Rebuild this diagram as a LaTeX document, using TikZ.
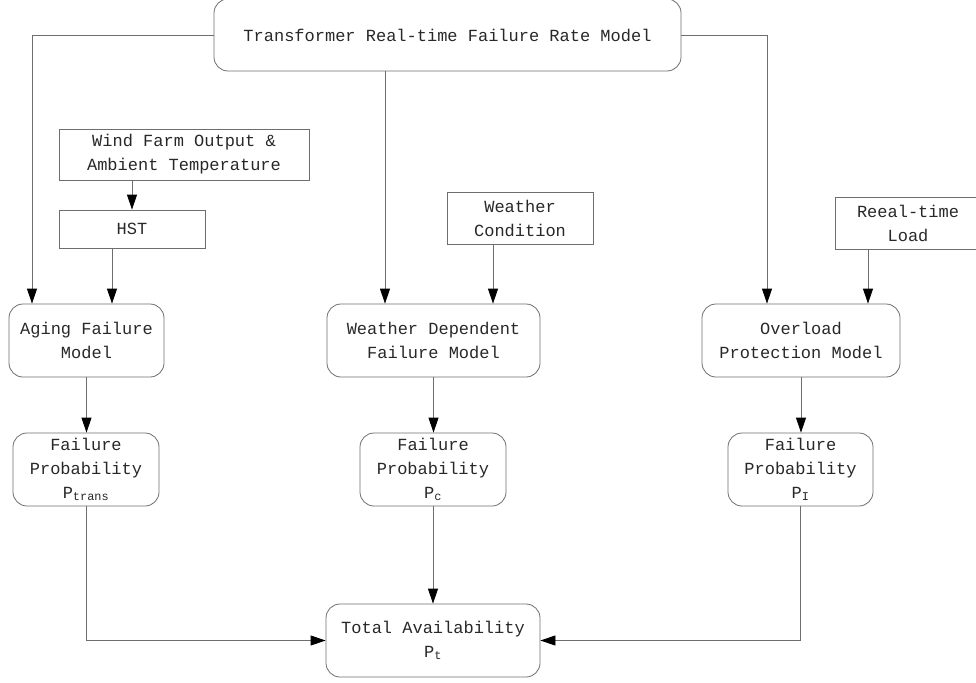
\documentclass[tikz,border=0pt]{standalone}
\usepackage{fontspec}
\setmainfont{Liberation Mono}
\usetikzlibrary{arrows.meta}
\definecolor{linegray}{RGB}{110,110,110}
\definecolor{textgray}{RGB}{40,40,40}

\begin{document}
\begin{tikzpicture}[x=1pt,y=-1pt]
    \tikzstyle{every node}+=[inner sep=0pt, align=center, text=textgray, font=\fontsize{17}{24}\selectfont]
    \tikzstyle{rbox}=[draw=linegray, line width=0.8pt, rounded corners=14pt]
    \tikzstyle{sbox}=[draw=linegray, line width=0.8pt]
    \tikzstyle{arr}=[draw=linegray, line width=0.8pt, -{Triangle[length=15pt,width=10pt,color=black]}]
    \useasboundingbox (0,0) rectangle (976,682);
    \node [rbox, minimum width=467pt, minimum height=72pt] (top) at (447.5,35) {Transformer Real-time Failure Rate Model};
    \node [sbox, minimum width=250pt, minimum height=51pt] (wind) at (184,154.5) {Wind Farm Output \&\\Ambient Temperature};
    \node [sbox, minimum width=146pt, minimum height=38pt] (hst) at (132,229) {HST};
    \node [sbox, minimum width=146pt, minimum height=52pt] (cond) at (520,218) {Weather\\Condition};
    \node [sbox, minimum width=146pt, minimum height=52pt] (load) at (908,223) {Reeal-time\\Load};
    \node [rbox, minimum width=155pt, minimum height=73pt] (aging) at (86.5,340.5) {Aging Failure\\Model};
    \node [rbox, minimum width=213pt, minimum height=73pt] (wdep) at (433.5,340.5) {Weather Dependent\\Failure Model};
    \node [rbox, minimum width=198pt, minimum height=73pt] (over) at (801,340.5) {Overload\\Protection Model};
    \node [rbox, minimum width=146pt, minimum height=73pt] (fpa) at (86,469.5) {Failure\\Probability\\P\textsubscript{trans}};
    \node [rbox, minimum width=146pt, minimum height=73pt] (fpw) at (433,469.5) {Failure\\Probability\\P\textsubscript{c}};
    \node [rbox, minimum width=145pt, minimum height=73pt] (fpo) at (800.5,469.5) {Failure\\Probability\\P\textsubscript{I}};
    \node [rbox, minimum width=214pt, minimum height=73pt] (total) at (433,640.5) {Total Availability\\P\textsubscript{t}};
    \coordinate (agin) at ([xshift=-54.5pt]aging.north);
    \coordinate (wdin) at ([xshift=-48.5pt]wdep.north);
    \coordinate (ovin) at ([xshift=-34pt]over.north);
    \draw [arr] (top.west) -| (agin);
    \draw [arr] (top.south -| wdin) -- (wdin);
    \draw [arr] (top.east) -| (ovin);
    \draw [arr] (wind.south -| hst.north) -- (hst.north);
    \draw [arr] ([xshift=-20pt]hst.south) -- ([xshift=-20pt]hst.south |- aging.north);
    \draw [arr] ([xshift=-27pt]cond.south) -- ([xshift=-27pt]cond.south |- wdep.north);
    \draw [arr] ([xshift=-40pt]load.south) -- ([xshift=-40pt]load.south |- over.north);
    \draw [arr] (aging.south) -- (aging.south |- fpa.north);
    \draw [arr] (wdep.south) -- (wdep.south |- fpw.north);
    \draw [arr] (over.south) -- (over.south |- fpo.north);
    \draw [arr] (fpw.south) -- (total.north);
    \draw [arr] (fpa.south) |- (total.west);
    \draw [arr] (fpo.south) |- (total.east);
\end{tikzpicture}
\end{document}
